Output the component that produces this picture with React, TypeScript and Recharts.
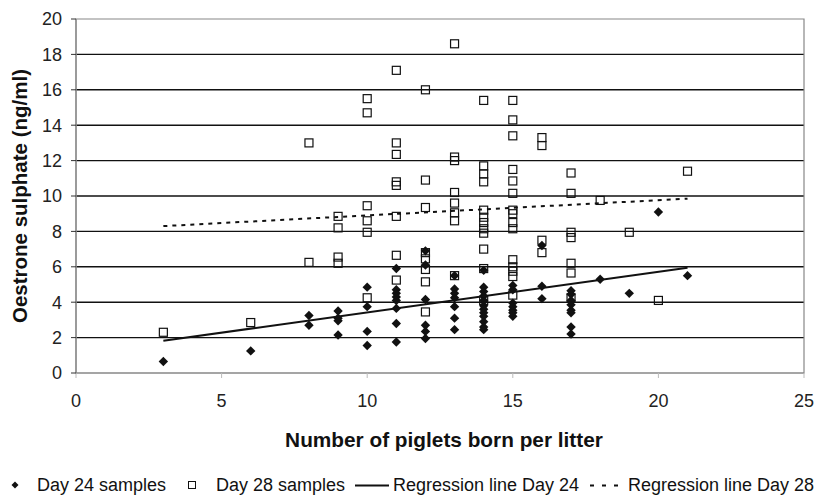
import React from 'react';
import { ComposedChart, Scatter, XAxis, YAxis, CartesianGrid, ReferenceArea } from 'recharts';

const FONT = '"Liberation Sans", Arial, Helvetica, sans-serif';

// Day 24 samples: [piglets, oestrone sulphate]
const day24: [number, number][] = [
  [3, 0.65],
  [6, 1.25],
  [8, 3.25], [8, 2.7],
  [9, 3.5], [9, 3.1], [9, 2.95], [9, 2.15],
  [10, 4.85], [10, 3.75], [10, 2.35], [10, 1.55],
  [11, 5.9], [11, 4.7], [11, 4.5], [11, 4.3], [11, 4.1], [11, 3.65], [11, 2.8], [11, 1.75],
  [12, 6.9], [12, 6.1], [12, 4.15], [12, 2.7], [12, 2.35], [12, 1.95],
  [13, 5.5], [13, 4.75], [13, 4.5], [13, 4.25], [13, 3.75], [13, 3.1], [13, 2.45],
  [14, 5.8], [14, 4.85], [14, 4.6], [14, 4.35], [14, 4.1], [14, 3.8], [14, 3.6], [14, 3.4], [14, 3.2], [14, 2.9], [14, 2.6], [14, 2.45],
  [15, 4.95], [15, 4.7], [15, 3.95], [15, 3.75], [15, 3.55], [15, 3.4], [15, 3.2],
  [16, 7.2], [16, 4.9], [16, 4.2],
  [17, 4.65], [17, 4.45], [17, 4.1], [17, 3.85], [17, 3.55], [17, 3.4], [17, 2.6], [17, 2.2],
  [18, 5.3],
  [19, 4.5],
  [20, 9.1],
  [21, 5.5],
];

// Day 28 samples
const day28: [number, number][] = [
  [3, 2.3],
  [6, 2.85],
  [8, 13.0], [8, 6.25],
  [9, 8.85], [9, 8.2], [9, 6.55], [9, 6.2],
  [10, 15.5], [10, 14.7], [10, 9.45], [10, 8.6], [10, 7.95], [10, 4.25],
  [11, 17.1], [11, 13.0], [11, 12.35], [11, 10.8], [11, 10.6], [11, 8.85], [11, 6.65], [11, 5.25],
  [12, 16.0], [12, 10.9], [12, 9.35], [12, 6.8], [12, 6.45], [12, 5.85], [12, 5.15], [12, 3.45],
  [13, 18.6], [13, 12.2], [13, 12.0], [13, 10.2], [13, 9.6], [13, 9.05], [13, 8.6], [13, 5.5],
  [14, 15.4], [14, 11.7], [14, 11.25], [14, 10.8], [14, 9.2], [14, 8.8], [14, 8.5], [14, 8.15], [14, 7.9], [14, 7.0], [14, 5.9], [14, 4.1],
  [15, 15.4], [15, 14.3], [15, 13.4], [15, 11.5], [15, 10.85], [15, 10.15], [15, 9.2], [15, 9.0], [15, 8.5], [15, 8.15], [15, 6.4], [15, 6.0], [15, 5.75], [15, 5.45], [15, 4.4],
  [16, 13.3], [16, 12.85], [16, 7.5], [16, 6.8],
  [17, 11.3], [17, 10.15], [17, 7.95], [17, 7.65], [17, 6.2], [17, 5.65], [17, 4.25],
  [18, 9.75],
  [19, 7.95],
  [20, 4.1],
  [21, 11.4],
];

// Regression line end points
const regression24: [number, number][] = [[3, 1.82], [21, 5.95]];
const regression28: [number, number][] = [[3, 8.3], [21, 9.85]];

const xTicks = [0, 5, 10, 15, 20, 25];
const yTicks = [0, 2, 4, 6, 8, 10, 12, 14, 16, 18, 20];
const gridValues = [2, 4, 6, 8, 10, 12, 14, 16, 18];

const toPoints = (arr: [number, number][]) => arr.map(([x, y]) => ({ x, y }));

const Diamond = (props: any) => {
  const { cx, cy } = props;
  if (cx == null || cy == null) return null;
  const r = 4.7;
  return <path d={`M${cx},${cy - r}L${cx + r},${cy}L${cx},${cy + r}L${cx - r},${cy}Z`} fill="#111" />;
};

const Square = (props: any) => {
  const { cx, cy } = props;
  if (cx == null || cy == null) return null;
  return <rect x={cx - 4} y={cy - 4} width={8} height={8} fill="none" stroke="#111" strokeWidth={1.2} />;
};

const NoDot = () => null;

const item = (left: number): React.CSSProperties => ({ position: 'absolute', left, top: 0, whiteSpace: 'nowrap', lineHeight: '20px' });

export default function App() {
  return (
    <div style={{ position: 'absolute', left: 0, top: 0, width: 820, height: 495, background: '#fff', fontFamily: FONT }}>
      <ComposedChart width={820} height={495} margin={{ top: 19, right: 16, bottom: 0, left: 0 }}>
        <CartesianGrid horizontal vertical={false} horizontalValues={gridValues} stroke="#111" strokeWidth={1.4} />
        <ReferenceArea x1={0} x2={25} y1={0} y2={20} fill="none" stroke="#888" strokeWidth={1.2} />
        <XAxis
          type="number"
          dataKey="x"
          domain={[0, 25]}
          ticks={xTicks}
          allowDataOverflow
          height={122}
          tickSize={5}
          tickMargin={16}
          axisLine={{ stroke: '#888', strokeWidth: 1.2 }}
          tickLine={{ stroke: '#bbb' }}
          tick={{ fill: '#222', fontSize: 18, fontFamily: FONT }}
          label={{
            content: (p: any) => {
              const vb = p.viewBox || {};
              return (
                <text x={vb.x + vb.width / 2 + 4} y={vb.y + 74} textAnchor="middle" fontFamily={FONT} fontWeight="bold" fontSize={20.8} fill="#111">
                  Number of piglets born per litter
                </text>
              );
            },
          }}
        />
        <YAxis
          type="number"
          dataKey="y"
          domain={[0, 20]}
          ticks={yTicks}
          allowDataOverflow
          width={76}
          tickSize={5}
          tickMargin={9}
          axisLine={{ stroke: '#888', strokeWidth: 1.2 }}
          tickLine={{ stroke: '#333' }}
          tick={{ fill: '#222', fontSize: 18, fontFamily: FONT }}
          label={{
            content: (p: any) => {
              const vb = p.viewBox || {};
              const cx = 19;
              const cy = vb.y + vb.height / 2;
              return (
                <text x={cx} y={cy} transform={`rotate(-90 ${cx} ${cy})`} textAnchor="middle" dominantBaseline="central" fontFamily={FONT} fontWeight="bold" fontSize={20.5} fill="#111">
                  Oestrone sulphate (ng/ml)
                </text>
              );
            },
          }}
        />
        <Scatter name="Day 24 samples" data={toPoints(day24)} shape={<Diamond />} isAnimationActive={false} />
        <Scatter name="Day 28 samples" data={toPoints(day28)} shape={<Square />} isAnimationActive={false} />
        <Scatter name="Regression line Day 24" data={toPoints(regression24)} line={{ stroke: '#111', strokeWidth: 2 }} shape={<NoDot />} isAnimationActive={false} />
        <Scatter name="Regression line Day 28" data={toPoints(regression28)} line={{ stroke: '#111', strokeWidth: 2, strokeDasharray: '4 5' }} shape={<NoDot />} isAnimationActive={false} />
      </ComposedChart>
      <div style={{ position: 'absolute', left: 0, top: 475, width: 820, height: 20, fontSize: 18, color: '#111', fontFamily: FONT }}>
        <svg width={12} height={20} style={{ position: 'absolute', left: 9, top: 0 }}><path d="M6,6.5L9.5,10L6,13.5L2.5,10Z" fill="#111" /></svg>
        <span style={item(37)}>Day 24 samples</span>
        <svg width={12} height={20} style={{ position: 'absolute', left: 186, top: 0 }}><rect x={2.5} y={6.5} width={7} height={7} fill="none" stroke="#111" strokeWidth={1} /></svg>
        <span style={item(216)}>Day 28 samples</span>
        <svg width={34} height={20} style={{ position: 'absolute', left: 355, top: 0 }}><line x1={0} y1={10.5} x2={34} y2={10.5} stroke="#111" strokeWidth={2} /></svg>
        <span style={item(393)}>Regression line Day 24</span>
        <svg width={34} height={20} style={{ position: 'absolute', left: 590, top: 0 }}><line x1={0} y1={10.5} x2={34} y2={10.5} stroke="#111" strokeWidth={2} strokeDasharray="4 8" /></svg>
        <span style={item(628)}>Regression line Day 28</span>
      </div>
    </div>
  );
}
